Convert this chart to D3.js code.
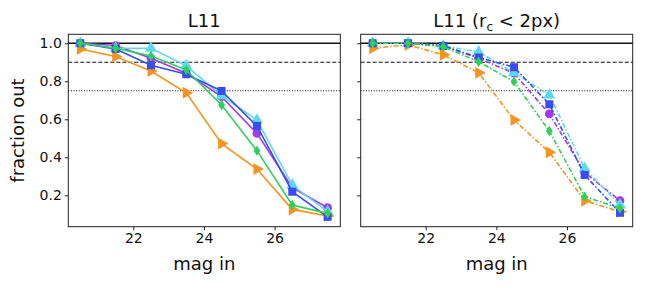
<!DOCTYPE html>
<html>
<head>
<meta charset="utf-8">
<script src="https://cdn.jsdelivr.net/npm/d3@7"></script>
<style>
  body { margin: 0; background: #fff; }
  svg { font-family: "DejaVu Sans", sans-serif; }
</style>
</head>
<body>
<svg id="chart" width="648" height="288"></svg>
<script>
// magnitude bins
const mags = [20.5, 21.5, 22.5, 23.5, 24.5, 25.5, 26.5, 27.5]
const xTicks = [22, 24, 26]
const yTicks = [0.2, 0.4, 0.6, 0.8, 1.0]

// left panel: L11
const leftOrange = [0.970, 0.930, 0.854, 0.739, 0.472, 0.338, 0.126, 0.091]
const leftBlue   = [1.0, 0.970, 0.884, 0.837, 0.749, 0.565, 0.219, 0.087]
const leftPurple = [1.0, 0.988, 0.921, 0.842, 0.719, 0.526, 0.240, 0.135]
const leftCyan   = [1.0, 0.974, 0.974, 0.881, 0.723, 0.596, 0.254, 0.114]
const leftGreen  = [1.0, 0.974, 0.933, 0.860, 0.675, 0.435, 0.149, 0.105]

// right panel: L11 (rc < 2px)
const rightOrange = [0.974, 0.991, 0.939, 0.845, 0.596, 0.426, 0.172, 0.114]
const rightBlue   = [1.0, 1.0, 0.986, 0.925, 0.874, 0.679, 0.307, 0.108]
const rightPurple = [1.0, 1.0, 0.986, 0.921, 0.842, 0.628, 0.320, 0.172]
const rightCyan   = [1.0, 1.0, 0.986, 0.954, 0.845, 0.728, 0.342, 0.149]
const rightGreen  = [1.0, 1.0, 0.982, 0.903, 0.798, 0.538, 0.193, 0.132]

// reference levels
const refLines = [
  { v: 1.0, dash: null, w: 1.5 },
  { v: 0.9, dash: '4,2', w: 1 },
  { v: 0.75, dash: '1,1.6', w: 1 }
]

const colors = { orange: '#f7931e', blue: '#3a4df0', purple: '#a23be8', cyan: '#5cd9f2', green: '#2ed158' }

let svg = d3.select('#chart')
let plotTop = 34.3, plotBottom = 226.7, pw = 272

let yscale = d3.scaleLinear().domain([0.035, 1.047]).range([plotBottom, plotTop])

function symbolFor(kind) {
  if (kind == 'square') return d3.symbol().type(d3.symbolSquare).size(64)()
  if (kind == 'circle') return d3.symbol().type(d3.symbolCircle).size(60)()
  if (kind == 'diamond') return 'M0,-5.2L3.4,0L0,5.2L-3.4,0Z'
  return d3.symbol().type(d3.symbolTriangle).size(62)()
}

function panel(left, title, series, dash) {
  let xscale = d3.scaleLinear().domain([20.16, 27.86]).range([left, left + pw])
  let g = svg.append('g')

  refLines.forEach((r) => {
    g.append('line')
      .attr('x1', left).attr('x2', left + pw)
      .attr('y1', yscale(r.v)).attr('y2', yscale(r.v))
      .style('stroke', '#111')
      .style('stroke-width', r.w)
      .style('stroke-dasharray', r.dash)
  })

  let line = d3.line()
    .x((d, i) => xscale(mags[i]))
    .y((d) => yscale(d))

  series.forEach((s) => {
    g.append('path')
      .attr('d', line(s.values))
      .style('fill', 'none')
      .style('stroke', s.color)
      .style('stroke-width', 1.6)
      .style('stroke-dasharray', dash)

    s.values.forEach((v, i) => {
      g.append('path')
        .attr('d', symbolFor(s.marker))
        .attr('transform', `translate(${xscale(mags[i])},${yscale(v)}) rotate(${s.marker == 'right' ? 90 : 0})`)
        .style('fill', s.color)
    })
  })

  g.append('g')
    .attr('transform', `translate(0,${plotBottom})`)
    .call(d3.axisBottom(xscale).tickValues(xTicks).tickSize(3.5).tickPadding(3).tickFormat(d3.format('d')))

  g.append('g')
    .attr('transform', `translate(${left},0)`)
    .call(d3.axisLeft(yscale).tickValues(yTicks).tickSize(3.5).tickPadding(3)
      .tickFormat(left < 100 ? d3.format('.1f') : ''))

  g.selectAll('.domain').remove()
  g.selectAll('.tick line').style('stroke', '#222')
  g.selectAll('.tick text').style('font-size', '14px').style('fill', '#111').style('font-family', 'DejaVu Sans')

  g.append('rect')
    .attr('x', left).attr('y', plotTop)
    .attr('width', pw).attr('height', plotBottom - plotTop)
    .style('fill', 'none')
    .style('stroke', '#222')
    .style('stroke-width', 1)

  let t = g.append('text')
    .attr('x', left + pw / 2).attr('y', 27)
    .attr('text-anchor', 'middle')
    .style('font-size', '18px')
    .style('fill', '#111')
  title(t)

  g.append('text')
    .attr('x', left + pw / 2).attr('y', 270)
    .attr('text-anchor', 'middle')
    .style('font-size', '18px')
    .style('fill', '#111')
    .text('mag in')
}

panel(68.3, (t) => t.text('L11'), [
  { values: leftPurple, color: colors.purple, marker: 'circle' },
  { values: leftCyan, color: colors.cyan, marker: 'up' },
  { values: leftOrange, color: colors.orange, marker: 'right' },
  { values: leftBlue, color: colors.blue, marker: 'square' },
  { values: leftGreen, color: colors.green, marker: 'diamond' }
], null)

panel(360.7, (t) => {
  t.append('tspan').text('L11 (r')
  t.append('tspan').attr('dy', 4).style('font-size', '12px').text('c')
  t.append('tspan').attr('dy', -4).text(' < 2px)')
}, [
  { values: rightPurple, color: colors.purple, marker: 'circle' },
  { values: rightCyan, color: colors.cyan, marker: 'up' },
  { values: rightOrange, color: colors.orange, marker: 'right' },
  { values: rightBlue, color: colors.blue, marker: 'square' },
  { values: rightGreen, color: colors.green, marker: 'diamond' }
], '5,2,1.5,2')

svg.append('text')
  .attr('transform', `translate(24,${(plotTop + plotBottom) / 2}) rotate(-90)`)
  .attr('text-anchor', 'middle')
  .style('font-size', '18px')
  .style('fill', '#111')
  .text('fraction out')
</script>
</body>
</html>
